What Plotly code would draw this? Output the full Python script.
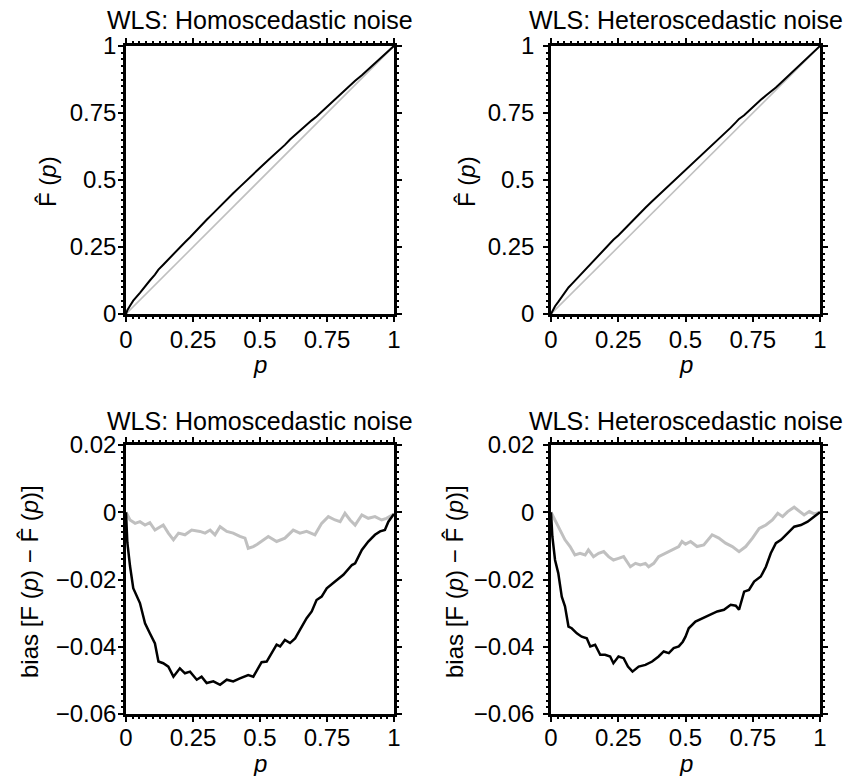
import plotly.graph_objects as go

# ---- data ---------------------------------------------------------------
# bias F(p) - F_hat(p), homoscedastic noise
homo_p_black = [0, 0.005, 0.015, 0.027, 0.052, 0.071, 0.089, 0.108, 0.121, 0.139,
                0.158, 0.177, 0.201, 0.220, 0.239, 0.264, 0.282, 0.301, 0.326, 0.351,
                0.376, 0.400, 0.425, 0.456, 0.475, 0.494, 0.506, 0.525, 0.537, 0.562,
                0.575, 0.593, 0.612, 0.631, 0.649, 0.674, 0.693, 0.711, 0.730, 0.749,
                0.780, 0.811, 0.843, 0.855, 0.880, 0.904, 0.929, 0.948, 0.966, 0.979, 1.0]
homo_bias_black = [0, -0.009, -0.016, -0.0226, -0.027, -0.033, -0.036, -0.039, -0.0444, -0.0449,
                   -0.0459, -0.0489, -0.0464, -0.0479, -0.0474, -0.0498, -0.0489, -0.0508, -0.0503, -0.0513,
                   -0.0498, -0.0503, -0.0494, -0.0484, -0.0489, -0.046, -0.0446, -0.0444, -0.0429, -0.0394,
                   -0.0399, -0.0380, -0.0389, -0.0375, -0.0350, -0.0315, -0.0295, -0.0261, -0.0251, -0.0226,
                   -0.0206, -0.0186, -0.0157, -0.0152, -0.0112, -0.0087, -0.0067, -0.0057, -0.0053, -0.0028, -0.0005]

homo_p_gray = [0, 0.015, 0.034, 0.052, 0.071, 0.089, 0.108, 0.139, 0.158, 0.177,
               0.196, 0.220, 0.245, 0.276, 0.295, 0.314, 0.332, 0.351, 0.376, 0.400,
               0.425, 0.444, 0.456, 0.475, 0.490, 0.506, 0.531, 0.562, 0.593, 0.624,
               0.649, 0.674, 0.705, 0.730, 0.755, 0.780, 0.799, 0.817, 0.836, 0.855,
               0.880, 0.904, 0.929, 0.954, 0.972, 1.0]
homo_bias_gray = [0, -0.0023, -0.0033, -0.0028, -0.0038, -0.0031, -0.0053, -0.0038, -0.0062, -0.0082,
                  -0.0062, -0.0067, -0.0053, -0.0057, -0.0062, -0.0053, -0.0067, -0.0043, -0.0057, -0.0062,
                  -0.0072, -0.0077, -0.0107, -0.0102, -0.0095, -0.0087, -0.0072, -0.0087, -0.0077, -0.0053,
                  -0.0062, -0.0057, -0.0067, -0.0033, -0.0013, -0.0023, -0.0028, -0.0003, -0.0023, -0.0038,
                  -0.0008, -0.0018, -0.0013, -0.0023, -0.0018, -0.0005]

# bias F(p) - F_hat(p), heteroscedastic noise
het_p_black = [0, 0.005, 0.015, 0.027, 0.040, 0.052, 0.065, 0.077, 0.096, 0.114,
               0.133, 0.146, 0.164, 0.183, 0.201, 0.220, 0.232, 0.251, 0.270, 0.286,
               0.303, 0.326, 0.351, 0.376, 0.400, 0.419, 0.438, 0.456, 0.475, 0.490,
               0.500, 0.512, 0.537, 0.562, 0.593, 0.618, 0.643, 0.668, 0.687, 0.699,
               0.718, 0.736, 0.755, 0.780, 0.799, 0.817, 0.836, 0.855, 0.880, 0.904,
               0.929, 0.954, 0.979, 1.0]
het_bias_black = [0, -0.0072, -0.0142, -0.0181, -0.0251, -0.028, -0.034, -0.0345, -0.036, -0.037,
                  -0.0375, -0.0399, -0.0394, -0.0424, -0.0424, -0.0429, -0.0449, -0.0429, -0.0434, -0.0459,
                  -0.0474, -0.0459, -0.0454, -0.0444, -0.0429, -0.0414, -0.0419, -0.0404, -0.0399, -0.0385,
                  -0.037, -0.0345, -0.0325, -0.0315, -0.0305, -0.0295, -0.029, -0.0275, -0.0278, -0.029,
                  -0.0236, -0.0231, -0.0206, -0.0191, -0.0162, -0.0122, -0.0092, -0.0082, -0.0062, -0.0043,
                  -0.0038, -0.0028, -0.0013, 0]

het_p_gray = [0, 0.015, 0.034, 0.052, 0.071, 0.089, 0.108, 0.127, 0.139, 0.158,
              0.177, 0.196, 0.214, 0.232, 0.251, 0.270, 0.295, 0.314, 0.332, 0.351,
              0.363, 0.382, 0.400, 0.425, 0.450, 0.475, 0.487, 0.500, 0.519, 0.543,
              0.568, 0.599, 0.624, 0.649, 0.674, 0.699, 0.724, 0.749, 0.774, 0.799,
              0.823, 0.843, 0.861, 0.880, 0.904, 0.923, 0.941, 0.960, 0.979, 1.0]
het_bias_gray = [0, -0.0023, -0.0053, -0.0082, -0.0102, -0.0127, -0.0122, -0.0127, -0.0112, -0.0132,
                 -0.0122, -0.0117, -0.0132, -0.0142, -0.0137, -0.0132, -0.0162, -0.0152, -0.0157, -0.0152,
                 -0.0162, -0.0152, -0.0132, -0.0122, -0.0112, -0.0102, -0.0087, -0.0095, -0.0087, -0.0102,
                 -0.0097, -0.0067, -0.0077, -0.0092, -0.0102, -0.0117, -0.0102, -0.0077, -0.0048, -0.0038,
                 -0.0023, -0.0003, -0.0013, 0.0002, 0.0015, 0.0002, -0.0008, 0.0002, -0.0005, 0]

diag = [0, 1]
unit_ticks = [0, 0.25, 0.5, 0.75, 1]
unit_labels = ["0", "0.25", "0.5", "0.75", "1"]
bias_ticks = [0.02, 0, -0.02, -0.04, -0.06]
bias_labels = ["0.02", "0", "\u22120.02", "\u22120.04", "\u22120.06"]

titles = ["WLS: Homoscedastic noise", "WLS: Heteroscedastic noise"]

# estimated F_hat(p) = p - bias
homo_fhat = [p - b for p, b in zip(homo_p_black, homo_bias_black)]
het_fhat = [p - b for p, b in zip(het_p_black, het_bias_black)]

# ---- layout geometry (pixels) ------------------------------------------
W, H = 847, 776
FONT = "Liberation Sans, Arial, Helvetica, sans-serif"
GRAY = "#c0c0c0"

col_px = [(126, 394), (551, 820)]
row_px = [(46, 314), (445, 714)]


def xdom(c):
    a, b = col_px[c]
    return [a / W, b / W]


def ydom(r):
    a, b = row_px[r]
    return [1 - b / H, 1 - a / H]


fig = go.Figure()

# top row: F_hat(p) vs p, with identity line
for i, fh, px in [(1, homo_fhat, homo_p_black), (2, het_fhat, het_p_black)]:
    fig.add_trace(go.Scatter(x=diag, y=diag, mode="lines",
                             line=dict(color=GRAY, width=1.6),
                             xaxis=f"x{i}", yaxis=f"y{i}", showlegend=False))
    fig.add_trace(go.Scatter(x=px, y=fh, mode="lines",
                             line=dict(color="black", width=2),
                             xaxis=f"x{i}", yaxis=f"y{i}", showlegend=False))

# bottom row: bias curves
for i, (pg, bg, pb, bb) in [(3, (homo_p_gray, homo_bias_gray, homo_p_black, homo_bias_black)),
                            (4, (het_p_gray, het_bias_gray, het_p_black, het_bias_black))]:
    fig.add_trace(go.Scatter(x=pg, y=bg, mode="lines",
                             line=dict(color=GRAY, width=3),
                             xaxis=f"x{i}", yaxis=f"y{i}", showlegend=False))
    fig.add_trace(go.Scatter(x=pb, y=bb, mode="lines",
                             line=dict(color="black", width=2.5),
                             xaxis=f"x{i}", yaxis=f"y{i}", showlegend=False))


def axis_style(dom, anchor, rng, tv, tt, minor_step, tick0):
    return dict(domain=dom, anchor=anchor, range=rng, automargin=False,
                tickmode="array", tickvals=tv, ticktext=tt,
                ticks="outside", ticklen=5, tickwidth=1.5, tickcolor="black",
                showline=True, linecolor="black", linewidth=2.5, mirror="allticks",
                showgrid=False, zeroline=False, fixedrange=True,
                tickfont=dict(family=FONT, size=24, color="black"),
                minor=dict(tickmode="linear", tick0=tick0, dtick=minor_step,
                           ticks="outside", ticklen=2.5, tickwidth=1.5,
                           tickcolor="black", showgrid=False))


layout = dict(width=W, height=H, template="none",
              margin=dict(l=0, r=0, t=0, b=0, pad=0, autoexpand=False),
              paper_bgcolor="white", plot_bgcolor="white",
              font=dict(family=FONT, size=24, color="black"), showlegend=False)

for i, (r, c) in enumerate([(0, 0), (0, 1), (1, 0), (1, 1)], start=1):
    xa = axis_style(xdom(c), f"y{i}", [0, 1], unit_ticks, unit_labels, 0.025, 0)
    if r == 0:
        ya = axis_style(ydom(r), f"x{i}", [0, 1], unit_ticks, unit_labels, 0.025, 0)
    else:
        ya = axis_style(ydom(r), f"x{i}", [-0.06, 0.02], bias_ticks, bias_labels, 0.002, -0.06)
    xa["ticklabelstandoff"] = -3 if r == 0 else -5
    ya["ticklabelstandoff"] = -3 if c == 0 else 4
    layout["xaxis" if i == 1 else f"xaxis{i}"] = xa
    layout["yaxis" if i == 1 else f"yaxis{i}"] = ya

fig.update_layout(**layout)

ann = []
# panel titles
for r, ypix in [(0, 20), (1, 421)]:
    for c in range(2):
        a, b = col_px[c]
        ann.append(dict(text=titles[c], x=(a + b) / 2 / W, y=1 - ypix / H,
                        xref="paper", yref="paper", xanchor="center", yanchor="middle",
                        showarrow=False, font=dict(family=FONT, size=25, color="black")))
# x-axis titles
for ypix in [364, 763]:
    for c in range(2):
        a, b = col_px[c]
        ann.append(dict(text="<i>p</i>", x=(a + b) / 2 / W, y=1 - ypix / H,
                        xref="paper", yref="paper", xanchor="center", yanchor="middle",
                        showarrow=False, font=dict(family=FONT, size=24, color="black")))
# y-axis titles
ytitles = [("F\u0302 (<i>p</i>)", 47, 182), ("F\u0302 (<i>p</i>)", 466, 182),
           ("bias [F (<i>p</i>) \u2212 F\u0302 (<i>p</i>)]", 29, 582),
           ("bias [F (<i>p</i>) \u2212 F\u0302 (<i>p</i>)]", 454, 582)]
for txt, xp, yp in ytitles:
    ann.append(dict(text=txt, x=xp / W, y=1 - yp / H, textangle=-90,
                    xref="paper", yref="paper", xanchor="center", yanchor="middle",
                    showarrow=False, font=dict(family=FONT, size=24, color="black")))

fig.update_layout(annotations=ann)
fig.write_html("out.html")
